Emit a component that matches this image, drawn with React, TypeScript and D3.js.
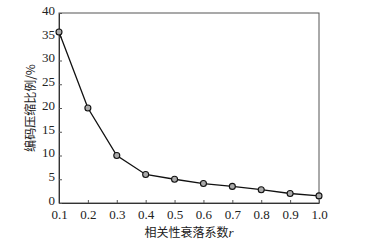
import React, { useEffect, useRef } from "react";
import * as d3 from "d3";

const rValues = [0.1, 0.2, 0.3, 0.4, 0.5, 0.6, 0.7, 0.8, 0.9, 1.0];
const ratioValues = [36, 20, 10, 6, 5, 4.1, 3.5, 2.8, 2, 1.5];
const xTicks = [0.1, 0.2, 0.3, 0.4, 0.5, 0.6, 0.7, 0.8, 0.9, 1.0];
const yTicks = [0, 5, 10, 15, 20, 25, 30, 35, 40];

const MARGIN = { LEFT: 59, RIGHT: 48, TOP: 13, BOTTOM: 39 };
const WIDTH = 367;
const HEIGHT = 242;
const SERIF = "'Liberation Serif', 'Times New Roman', serif";
const CJK = "'Noto Sans CJK SC', sans-serif";

const App = () => {
  const svgRef = useRef<SVGSVGElement>(null);

  useEffect(() => {
    const svg = d3.select(svgRef.current);
    svg.selectAll("*").remove();

    const xScale = d3
      .scaleLinear()
      .domain([0.1, 1.0])
      .range([MARGIN.LEFT, WIDTH - MARGIN.RIGHT]);
    const yScale = d3
      .scaleLinear()
      .domain([0, 40])
      .range([HEIGHT - MARGIN.BOTTOM, MARGIN.TOP]);

    // frame
    svg
      .append("rect")
      .attr("x", MARGIN.LEFT)
      .attr("y", MARGIN.TOP)
      .attr("width", WIDTH - MARGIN.RIGHT - MARGIN.LEFT)
      .attr("height", HEIGHT - MARGIN.BOTTOM - MARGIN.TOP)
      .attr("fill", "none")
      .attr("stroke", "#555")
      .attr("stroke-width", 1);

    const xAxis = d3
      .axisBottom(xScale)
      .tickValues(xTicks)
      .tickFormat(d3.format(".1f"))
      .tickSizeInner(-3)
      .tickSizeOuter(0)
      .tickPadding(7);
    const yAxis = d3
      .axisLeft(yScale)
      .tickValues(yTicks)
      .tickSizeInner(-3)
      .tickSizeOuter(0)
      .tickPadding(4);

    const gx = svg
      .append("g")
      .attr("transform", `translate(0,${HEIGHT - MARGIN.BOTTOM})`)
      .call(xAxis);
    const gy = svg
      .append("g")
      .attr("transform", `translate(${MARGIN.LEFT},0)`)
      .call(yAxis);

    [gx, gy].forEach((g) => {
      g.select(".domain").attr("stroke", "#333");
      g.selectAll(".tick line").attr("stroke", "#555");
      g.selectAll(".tick text")
        .attr("fill", "#222")
        .style("font-family", SERIF)
        .style("font-size", "13px");
    });
    // lift the y labels a little so "0" clears "0.1"
    gy.selectAll(".tick text").attr("dy", "0.1em");

    const line = d3
      .line<number>()
      .x((d, i) => xScale(rValues[i]))
      .y((d) => yScale(d));

    svg
      .append("path")
      .datum(ratioValues)
      .attr("d", line)
      .attr("fill", "none")
      .attr("stroke", "#111")
      .attr("stroke-width", 1.3);

    svg
      .selectAll("circle.pt")
      .data(ratioValues)
      .join("circle")
      .attr("class", "pt")
      .attr("cx", (d, i) => xScale(rValues[i]))
      .attr("cy", (d) => yScale(d))
      .attr("r", 3)
      .attr("fill", "#aaa")
      .attr("stroke", "#111")
      .attr("stroke-width", 1.1);

    // x title
    const xt = svg
      .append("text")
      .attr("x", (MARGIN.LEFT + WIDTH - MARGIN.RIGHT) / 2)
      .attr("y", 237)
      .attr("text-anchor", "middle")
      .attr("fill", "#222")
      .style("font-size", "12px");
    xt.append("tspan").style("font-family", CJK).text("相关性衰落系数");
    xt.append("tspan")
      .style("font-family", SERIF)
      .style("font-style", "italic")
      .style("font-size", "13px")
      .text("r");

    // y title
    svg
      .append("text")
      .attr("transform", `translate(35,${(MARGIN.TOP + HEIGHT - MARGIN.BOTTOM) / 2}) rotate(-90)`)
      .attr("text-anchor", "middle")
      .attr("fill", "#222")
      .style("font-family", CJK)
      .style("font-size", "12px")
      .text("编码压缩比例/%");
  }, []);

  return (
    <svg
      ref={svgRef}
      width={WIDTH}
      height={HEIGHT}
      style={{ position: "absolute", left: 0, top: 0, background: "#fff" }}
    ></svg>
  );
};

export default App;
